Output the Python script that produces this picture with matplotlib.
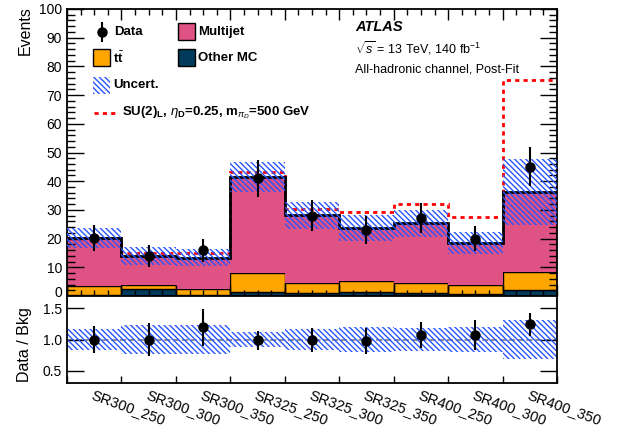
import numpy as np
import matplotlib.pyplot as plt
from matplotlib.patches import Rectangle
from matplotlib.lines import Line2D
from matplotlib.ticker import MultipleLocator, FixedLocator, FuncFormatter

plt.rcParams['font.family'] = ['Liberation Sans', 'DejaVu Sans']
plt.rcParams['mathtext.fontset'] = 'custom'
plt.rcParams['mathtext.rm'] = 'Liberation Sans'
plt.rcParams['mathtext.it'] = 'Liberation Sans:italic'
plt.rcParams['mathtext.bf'] = 'Liberation Sans:bold'
plt.rcParams['hatch.linewidth'] = 1.0

regions = ['SR300_250', 'SR300_300', 'SR300_350', 'SR325_250', 'SR325_300',
           'SR325_350', 'SR400_250', 'SR400_300', 'SR400_350']
other_mc = [0.3, 2.3, 0.4, 1.5, 0.9, 1.3, 1.1, 0.6, 2.1]
ttbar = [3.2, 1.5, 1.9, 6.4, 3.7, 4.0, 3.5, 3.2, 6.2]
multijet = [16.6, 10.2, 11.0, 33.7, 23.6, 18.3, 20.7, 14.8, 28.0]
bkg_unc = [3.5, 3.2, 3.0, 5.2, 4.7, 4.6, 4.7, 3.8, 11.4]
data = [20.1, 13.9, 15.9, 41.0, 28.0, 23.0, 27.1, 20.0, 45.1]
signal_total = [20.3, 14.9, 15.1, 43.1, 30.3, 29.4, 32.0, 27.6, 75.3]

c_multijet = '#de5284'
c_ttbar = '#ffa500'
c_other = '#003b5c'
c_hatch = '#2a55ff'
hatch = '\\' * 6

n = len(regions)
edges = np.arange(n + 1)
centers = np.arange(n) + 0.5
other_mc = np.array(other_mc)
ttbar = np.array(ttbar)
multijet = np.array(multijet)
total = other_mc + ttbar + multijet
unc = np.array(bkg_unc)
data = np.array(data)
data_err = np.sqrt(data)

fig = plt.figure(figsize=(6.22, 4.30), dpi=100)
ax = fig.add_axes([67 / 622, 1 - 296 / 430, 490 / 622, 287 / 430])
rax = fig.add_axes([67 / 622, 1 - 383 / 430, 490 / 622, 87 / 430])

# stacked backgrounds
ax.bar(edges[:-1], other_mc, width=1, align='edge', color=c_other, edgecolor='black', lw=1)
ax.bar(edges[:-1], ttbar, width=1, align='edge', bottom=other_mc, color=c_ttbar, edgecolor='black', lw=1)
ax.bar(edges[:-1], multijet, width=1, align='edge', bottom=other_mc + ttbar, color=c_multijet, edgecolor='none', lw=0)
ax.stairs(signal_total, edges, color='red', lw=2, ls=(0, (1.5, 1.5)), baseline=None, zorder=3)
ax.stairs(total, edges, color='black', lw=2, baseline=None, zorder=4)
ax.bar(edges[:-1], 2 * unc, width=1, align='edge', bottom=total - unc, color='none',
       edgecolor=c_hatch, lw=0, hatch=hatch, zorder=5)
ax.errorbar(centers, data, yerr=data_err, fmt='o', color='black', ms=6.5, elinewidth=1.5,
            capsize=0, zorder=6)

ax.set_xlim(0, n)
ax.set_ylim(0, 100)
ax.yaxis.set_major_locator(MultipleLocator(10))
ax.yaxis.set_minor_locator(MultipleLocator(2))
# the "0" label is drawn separately, a bit higher, so it clears the ratio panel's "1.5"
ax.yaxis.set_major_formatter(FuncFormatter(lambda v, p: '' if v == 0 else '%d' % v))
ax.annotate('0', xy=(0, 0), xycoords='axes fraction', xytext=(-3.5, 2.5),
            textcoords='offset points', ha='right', va='center', fontsize=10)
ax.xaxis.set_major_locator(FixedLocator(edges))
ax.xaxis.set_minor_locator(MultipleLocator(0.25))
ax.tick_params(axis='both', which='both', direction='in', top=True, right=True, labelsize=10)
ax.tick_params(axis='y', which='major', length=12, width=1)
ax.tick_params(axis='y', which='minor', length=6, width=1)
ax.tick_params(axis='x', which='major', length=8, width=1)
ax.tick_params(axis='x', which='minor', length=4, width=1)
ax.tick_params(axis='x', labelbottom=False)
for s in ax.spines.values():
    s.set_linewidth(1.3)

# ratio panel
ratio = data / total
ratio_err = data_err / total
rel = unc / total
rax.bar(edges[:-1], 2 * rel, width=1, align='edge', bottom=1 - rel, color='none',
        edgecolor=c_hatch, lw=0, hatch=hatch, zorder=2)
rax.axhline(1.0, color='grey', ls='--', lw=1.2, zorder=1)
rax.errorbar(centers, ratio, yerr=ratio_err, fmt='o', color='black', ms=6.5, elinewidth=1.5,
             capsize=0, zorder=4)
rax.set_xlim(0, n)
rax.set_ylim(0.3, 1.7)
rax.set_yticks([0.5, 1.0, 1.5])
rax.set_yticklabels(['0.5', '1.0', '1.5'])
rax.xaxis.set_major_locator(FixedLocator(edges))
rax.tick_params(axis='both', which='both', direction='in', right=True, labelsize=10)
rax.tick_params(axis='y', length=12, width=1)
rax.tick_params(axis='x', length=5, width=1, labelbottom=False)
for s in rax.spines.values():
    s.set_linewidth(1.3)
for xc, lab in zip(centers, regions):
    rax.text(xc, -0.06, lab, transform=rax.get_xaxis_transform(), rotation=-20,
             rotation_mode='anchor', ha='left', va='top', fontsize=10.5)

fig.text(25 / 622, 1 - 6 / 430, 'Events', rotation=90, ha='center', va='top', fontsize=11.5)
fig.text(25 / 622, 1 - 345 / 430, 'Data / Bkg', rotation=90, ha='center', va='center', fontsize=11.5)

# legend, drawn by hand
def fx(px):
    return px / 622

def fy(py):
    return 1 - py / 430

bw, bh = 17 / 622, 17 / 430
fig.add_artist(Line2D([fx(102), fx(102)], [fy(23), fy(41)], color='black', lw=1.5))
fig.add_artist(Line2D([fx(102)], [fy(32)], marker='o', color='black', ms=6.5))
fig.text(fx(114), fy(32), 'Data', fontsize=9.5, fontweight='bold', va='center')
fig.add_artist(Rectangle((fx(178), fy(40)), bw, bh, facecolor=c_multijet, edgecolor='black', lw=1))
fig.text(fx(198), fy(32), 'Multijet', fontsize=9.5, fontweight='bold', va='center')
fig.add_artist(Rectangle((fx(93), fy(66)), bw, bh, facecolor=c_ttbar, edgecolor='black', lw=1))
fig.text(fx(113), fy(58), r't$\bar{\mathbf{t}}$', fontsize=9.5, fontweight='bold', va='center')
fig.add_artist(Rectangle((fx(178), fy(66)), bw, bh, facecolor=c_other, edgecolor='black', lw=1))
fig.text(fx(198), fy(58), 'Other MC', fontsize=9.5, fontweight='bold', va='center')
fig.add_artist(Rectangle((fx(93), fy(94)), bw, bh, facecolor='none', edgecolor=c_hatch, lw=0, hatch=hatch))
fig.text(fx(113), fy(85), 'Uncert.', fontsize=9.5, fontweight='bold', va='center')
fig.add_artist(Line2D([fx(94), fx(118)], [fy(113), fy(113)], color='red', lw=2, ls=(0, (1.5, 1.5))))
fig.text(fx(122), fy(113), r'SU(2)$_{\mathbf{L}}$, $\eta_{\mathbf{D}}$=0.25, m$_{\pi_{D}}$=500 GeV',
         fontsize=9.5, fontweight='bold', va='center')

fig.text(fx(355), fy(27), 'ATLAS', fontsize=10.5, fontweight='bold', style='italic', va='center')
fig.text(fx(355), fy(48), r'$\sqrt{s}$ = 13 TeV, 140 fb$^{-1}$', fontsize=9, va='center')
fig.text(fx(355), fy(69), 'All-hadronic channel, Post-Fit', fontsize=9, va='center')

fig.savefig('out.png', dpi=100)
